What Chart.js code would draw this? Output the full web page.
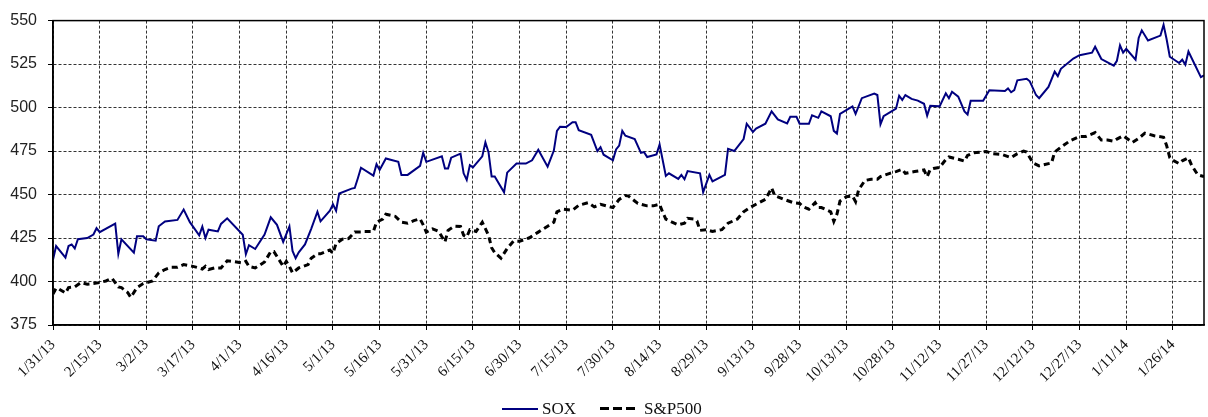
<!DOCTYPE html>
<html>
<head>
<meta charset="utf-8">
<script src="https://cdn.jsdelivr.net/npm/chart.js@4.4.1/dist/chart.umd.min.js"></script>
<style>
  html, body { margin: 0; padding: 0; background: #fff; }
  #wrap { position: relative; width: 1208px; height: 417px; }
  #legend { position: absolute; left: 0; top: 0; width: 1208px; height: 417px; pointer-events: none;
            font-family: "Liberation Serif", "Times New Roman", serif; font-size: 17px; color: #111; }
  .sw { position: absolute; height: 2px; }
  .lbl { position: absolute; line-height: 20px; }
</style>
</head>
<body>
<div id="wrap">
  <canvas id="chart" width="1208" height="417"></canvas>
  <div id="legend">
    <div class="sw" style="left:502px; top:408px; width:36px; background:#000080;"></div>
    <div class="lbl" style="left:542px; top:399px;">SOX</div>
    <div class="sw" style="left:600px; top:407px; width:36px; height:3px;
         background:repeating-linear-gradient(90deg,#000 0 9px,transparent 9px 13px);"></div>
    <div class="lbl" style="left:644px; top:399px;">S&amp;P500</div>
  </div>
</div>
<script>
  // days counted from 1/31/13
  const startDate = new Date(2013, 0, 31);
  const yTicks = [375, 400, 425, 450, 475, 500, 525, 550];

  const soxDays = [0,1,4,5,6,7,8,11,13,14, 15,20,21,22,26,27,29,30,33,34,
    36,40,42,44,47,48,49,50,53,54, 56,61,62,63,65,68,70,72,74,76,
    77,78,79,81,83,85,86,89,90,91, 92,96,97,98,99,103,104,105,107,111,
    112,114,118,119,120,125,126,127,128,131, 132,133,134,135,138,139,140,141,142,145,
    146,149,152,154,156,159,161,162,163,165, 167,168,169,173,175,176,177,180,181,182,
    183,184,187,189,190,191,194,195,197,198, 201,202,203,204,208,209,211,212,216,217,
    219,222,223,225,226,229,231,233,236,237, 239,240,243,244,246,247,250,251,252,253,
    257,258,260,264,265,266,267,271,272,273, 274,276,278,280,281,282,285,287,288,289,
    291,293,294,295,299,301,306,307,308,309, 310,313,314,316,317,320,322,323,324,328,
    330,334,335,337,341,342,343,344,345,348, 349,350,352,356,357,358,359,362,363,364,
    365,369,370];
  const soxValues = [412.5,420.4,413.8,420.4,421.3,419,424.3,425,427,430.7,
    428.4,433.3,415.9,424.3,416.6,426,426,424.3,423.5,431.8,
    434.5,435.4,441.4,434.1,426.6,431.6,425,429.8,428.8,433.1,
    436.3,426.9,415.7,420.9,418.7,427,436.9,432.6,422.8,431.7,
    417.6,413.4,416.8,421.3,430.3,440.1,434.6,440.7,444.4,440.7,
    450.6,453.4,453.8,459.4,465.4,460.9,467.4,464.1,470.7,468.8,
    461.3,461.3,466.5,474,468.8,472,465,465,471.2,473.5,
    462.2,458.4,466.9,465.6,472,480,474.4,460.4,460.4,451.3,
    462.6,467.8,467.8,469.7,475.7,466,475.3,486.6,489,488.8,
    491.6,491.6,487,484.3,475,477.2,472.9,469.7,475.9,478.1,
    486.6,483.8,481.9,474,474.4,471.6,473.1,478.8,460.7,462.2,
    459,461.3,458.8,463.5,462.2,451.3,461.3,457.5,461.3,476.3,
    475,481.9,490.7,486,487.9,490.7,497.8,493.2,490.9,494.7,
    494.7,490.7,490.7,495.6,494.1,497.8,495,486.6,485.1,496.4,
    500.7,496.4,505.4,508,507.2,490.4,495,499.4,506.8,504.4,
    507.2,505,504,502.2,495.4,501,500.7,508.2,505.4,509.1,
    506.3,497.8,496,503.9,503.9,510,509.5,511,508.8,510,
    515.7,516.6,515.1,507.2,505.4,511.9,520.7,518.1,522.3,528.2,
    530.1,531.6,535,527.9,524.1,526.9,535.8,531.6,533.8,527.5,
    540,544.4,538.6,541.4,547.6,539.1,529.2,525.6,527.5,524.7,
    532.2,517.5,518.5];

  const spxDays = [0,1,2,4,5,7,9,11,13,15, 17,19,21,22,24,25,27,29,32,34,
    36,38,40,42,45,47,48,49,50,52, 54,56,59,61,62,63,65,68,70,71,
    73,74,75,76,77,79,82,83,85,86, 89,90,91,93,95,97,99,100,103,104,
    106,107,110,112,114,116,118,119,120,122, 124,126,127,129,131,132,133,134,136,138,
    140,141,142,144,146,148,150,153,156,159, 161,162,164,167,169,172,174,176,180,182,
    184,185,187,188,191,193,195,196,197,199, 201,202,203,204,206,207,208,210,212,215,
    217,220,222,224,226,229,230,231,232,235, 238,240,241,243,245,246,247,250,251,252,
    253,255,257,258,259,261,263,265,266,269, 271,273,274,277,280,281,282,283,285,287,
    288,291,293,294,296,300,302,305,308,310, 312,313,315,317,321,322,324,327,330,332,
    335,337,339,341,342,344,347,349,351,354, 357,358,359,360,362,363,365,366,368,370];
  const spxValues = [392.8,396.2,395.6,393.4,396.5,396.9,399.4,398.5,398.8,399.4,
    400.3,401.8,396.9,396.5,393.7,390.9,396.5,398.8,400.3,405,
    406.9,408.2,408.2,409.7,408.7,407.8,407.2,408.7,406.9,407.8,
    407.8,411.9,411.2,410.6,411.6,408.7,407.8,411.2,417.2,417.2,
    411.6,408.7,411.6,408.7,405,407.8,409.7,413.4,415.9,415.9,
    418.1,416.2,421.9,424.3,424.7,428.4,428.4,428.8,428.8,434.1,
    435.9,438.7,437.5,434.1,433.5,435,436,432.6,428.4,430.3,
    428.8,422.8,429.4,431.8,431.6,426.6,425.6,429.8,428.8,434.1,
    426.6,419.4,416.6,413.4,419,423.2,423.2,425,428.4,431.8,
    434.1,440.1,441.6,441,443.8,445.3,442.9,444.4,442.5,447.2,
    449.4,449.1,446.3,444.9,443.5,443.5,444.4,439.7,435.9,434.1,
    432.6,433.1,433.5,436.3,435.9,434.8,429.4,429.8,428.8,429.8,
    433.5,435.9,440.1,442.5,444.4,447.2,450.4,453.8,449.4,447.2,
    445.3,444.9,443.1,441.6,445.3,442.5,442.5,440.1,434.5,438.7,
    446.3,448.7,449.1,445.9,452.8,458.1,458.8,458.8,460.3,462.2,
    463.2,464.5,462.2,463.2,464.1,460.3,464.5,465,465.6,470.1,
    471.6,470.3,469.2,472.5,474,474.8,473.5,473.1,471.2,473.5,
    475,474.4,468.2,466.5,468.2,474.4,477.2,481,483.4,483.4,
    485.6,481.3,481.3,480.6,481.9,483.8,480,482.3,485.3,483.8,
    482.9,478.1,471.2,469.7,467.8,469.4,471.2,466.9,461.3,460.3];

  function toPoints(days, values) {
    return days.map((d, i) => ({ x: d, y: values[i] }));
  }

  function dayLabel(v) {
    const d = new Date(startDate.getTime());
    d.setDate(d.getDate() + v);
    return (d.getMonth() + 1) + "/" + d.getDate() + "/" + String(d.getFullYear()).slice(2);
  }

  // solid box round the plot area
  const frame = {
    id: "frame",
    afterDraw(chart) {
      const { ctx, chartArea: a } = chart;
      ctx.save();
      ctx.strokeStyle = "#000";
      ctx.lineWidth = 1.5;
      ctx.strokeRect(a.left, a.top, a.right - a.left, a.bottom - a.top);
      ctx.restore();
    }
  };

  new Chart(document.getElementById("chart"), {
    type: "line",
    data: {
      datasets: [
        { label: "SOX", data: toPoints(soxDays, soxValues), borderColor: "#000080",
          borderWidth: 2, pointRadius: 0, tension: 0 },
        { label: "S&P500", data: toPoints(spxDays, spxValues), borderColor: "#000",
          borderWidth: 3, borderDash: [6, 4], pointRadius: 0, tension: 0 }
      ]
    },
    options: {
      responsive: false,
      animation: false,
      layout: { padding: { top: 14, right: 4, left: 0, bottom: 0 } },
      plugins: { legend: { display: false }, tooltip: { enabled: false } },
      scales: {
        x: {
          type: "linear", min: 0, max: 370,
          afterFit: s => { s.height = 92; },
          grid: { color: "rgba(0,0,0,0.8)", lineWidth: 1, tickLength: 5, tickColor: "#000", tickBorderDash: [] },
          border: { color: "#000", width: 1.5, dash: [3, 2] },
          ticks: {
            stepSize: 15, includeBounds: false, autoSkip: false,
            maxRotation: 45, minRotation: 45, padding: 6, color: "#111",
            font: { family: "'Liberation Serif', 'Times New Roman', serif", size: 15 },
            callback: v => dayLabel(v)
          }
        },
        y: {
          min: 375, max: 550,
          afterFit: s => { s.width = 53; },
          grid: { color: "rgba(0,0,0,0.8)", lineWidth: 1, tickLength: 5, tickColor: "#000", tickBorderDash: [] },
          border: { color: "#000", width: 1.5, dash: [3, 2] },
          afterBuildTicks: s => { s.ticks = yTicks.map(v => ({ value: v })); },
          ticks: {
            padding: 11, color: "#222",
            font: { family: "'Liberation Sans', Arial, sans-serif", size: 16 }
          }
        }
      }
    },
    plugins: [frame]
  });
</script>
</body>
</html>
